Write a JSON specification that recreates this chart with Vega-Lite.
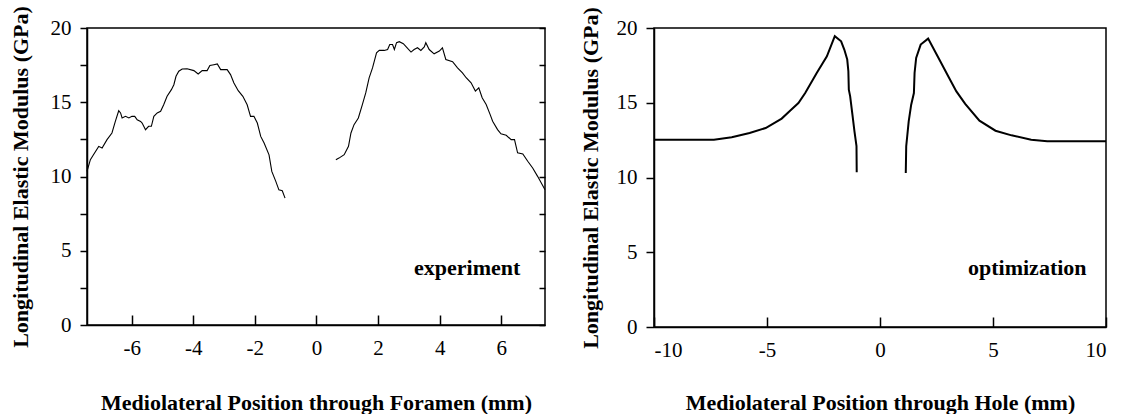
{
  "$schema": "https://vega.github.io/schema/vega-lite/v6.json",
  "padding": {"left": 8, "top": 4, "right": 5, "bottom": 0},
  "spacing": 30,
  "config": {
    "font": "Liberation Serif, Times New Roman, serif",
    "view": {"stroke": "black", "strokeWidth": 1.5},
    "axis": {
      "grid": false,
      "domainColor": "black",
      "domainWidth": 1.5,
      "tickColor": "black",
      "tickWidth": 1.5,
      "labelColor": "black",
      "titleColor": "black",
      "labelFont": "Liberation Serif, Times New Roman, serif",
      "titleFont": "Liberation Serif, Times New Roman, serif",
      "labelFontSize": 21,
      "titleFontSize": 22,
      "titleFontWeight": "bold"
    }
  },
  "datasets": {
    "exp": [
      {"x": -7.45, "y": 10.34, "seg": "L"},
      {"x": -7.34, "y": 11.13, "seg": "L"},
      {"x": -7.24, "y": 11.46, "seg": "L"},
      {"x": -7.07, "y": 12.03, "seg": "L"},
      {"x": -6.96, "y": 11.92, "seg": "L"},
      {"x": -6.8, "y": 12.48, "seg": "L"},
      {"x": -6.64, "y": 12.93, "seg": "L"},
      {"x": -6.53, "y": 13.71, "seg": "L"},
      {"x": -6.42, "y": 14.43, "seg": "L"},
      {"x": -6.36, "y": 14.28, "seg": "L"},
      {"x": -6.31, "y": 13.94, "seg": "L"},
      {"x": -6.2, "y": 14.05, "seg": "L"},
      {"x": -6.09, "y": 13.94, "seg": "L"},
      {"x": -5.99, "y": 14.05, "seg": "L"},
      {"x": -5.9, "y": 14.05, "seg": "L"},
      {"x": -5.82, "y": 13.82, "seg": "L"},
      {"x": -5.71, "y": 13.71, "seg": "L"},
      {"x": -5.66, "y": 13.6, "seg": "L"},
      {"x": -5.55, "y": 13.15, "seg": "L"},
      {"x": -5.45, "y": 13.38, "seg": "L"},
      {"x": -5.36, "y": 13.38, "seg": "L"},
      {"x": -5.28, "y": 14.05, "seg": "L"},
      {"x": -5.17, "y": 14.28, "seg": "L"},
      {"x": -5.06, "y": 14.39, "seg": "L"},
      {"x": -4.96, "y": 14.83, "seg": "L"},
      {"x": -4.85, "y": 15.4, "seg": "L"},
      {"x": -4.71, "y": 15.85, "seg": "L"},
      {"x": -4.63, "y": 16.18, "seg": "L"},
      {"x": -4.56, "y": 16.75, "seg": "L"},
      {"x": -4.47, "y": 17.09, "seg": "L"},
      {"x": -4.36, "y": 17.24, "seg": "L"},
      {"x": -4.2, "y": 17.26, "seg": "L"},
      {"x": -3.98, "y": 17.13, "seg": "L"},
      {"x": -3.84, "y": 16.9, "seg": "L"},
      {"x": -3.71, "y": 17.13, "seg": "L"},
      {"x": -3.55, "y": 17.13, "seg": "L"},
      {"x": -3.46, "y": 17.47, "seg": "L"},
      {"x": -3.33, "y": 17.53, "seg": "L"},
      {"x": -3.22, "y": 17.58, "seg": "L"},
      {"x": -3.11, "y": 17.2, "seg": "L"},
      {"x": -2.9, "y": 17.2, "seg": "L"},
      {"x": -2.79, "y": 16.86, "seg": "L"},
      {"x": -2.68, "y": 16.3, "seg": "L"},
      {"x": -2.54, "y": 15.78, "seg": "L"},
      {"x": -2.39, "y": 15.4, "seg": "L"},
      {"x": -2.25, "y": 14.83, "seg": "L"},
      {"x": -2.14, "y": 14.05, "seg": "L"},
      {"x": -2.03, "y": 14.05, "seg": "L"},
      {"x": -1.92, "y": 13.6, "seg": "L"},
      {"x": -1.81, "y": 12.7, "seg": "L"},
      {"x": -1.7, "y": 12.25, "seg": "L"},
      {"x": -1.54, "y": 11.46, "seg": "L"},
      {"x": -1.45, "y": 10.34, "seg": "L"},
      {"x": -1.32, "y": 9.67, "seg": "L"},
      {"x": -1.22, "y": 9.1, "seg": "L"},
      {"x": -1.11, "y": 9.04, "seg": "L"},
      {"x": -1.02, "y": 8.54, "seg": "L"},
      {"x": 0.63, "y": 11.13, "seg": "R"},
      {"x": 0.73, "y": 11.24, "seg": "R"},
      {"x": 0.9, "y": 11.47, "seg": "R"},
      {"x": 1.04, "y": 12.03, "seg": "R"},
      {"x": 1.12, "y": 12.93, "seg": "R"},
      {"x": 1.22, "y": 13.49, "seg": "R"},
      {"x": 1.36, "y": 13.94, "seg": "R"},
      {"x": 1.49, "y": 14.84, "seg": "R"},
      {"x": 1.6, "y": 15.63, "seg": "R"},
      {"x": 1.71, "y": 16.64, "seg": "R"},
      {"x": 1.82, "y": 17.31, "seg": "R"},
      {"x": 1.95, "y": 18.33, "seg": "R"},
      {"x": 2.04, "y": 18.49, "seg": "R"},
      {"x": 2.2, "y": 18.49, "seg": "R"},
      {"x": 2.31, "y": 18.55, "seg": "R"},
      {"x": 2.38, "y": 18.89, "seg": "R"},
      {"x": 2.47, "y": 18.89, "seg": "R"},
      {"x": 2.53, "y": 18.55, "seg": "R"},
      {"x": 2.6, "y": 19.01, "seg": "R"},
      {"x": 2.69, "y": 19.08, "seg": "R"},
      {"x": 2.82, "y": 18.94, "seg": "R"},
      {"x": 2.96, "y": 18.62, "seg": "R"},
      {"x": 3.07, "y": 18.38, "seg": "R"},
      {"x": 3.17, "y": 18.55, "seg": "R"},
      {"x": 3.28, "y": 18.67, "seg": "R"},
      {"x": 3.39, "y": 18.49, "seg": "R"},
      {"x": 3.5, "y": 18.72, "seg": "R"},
      {"x": 3.55, "y": 19.01, "seg": "R"},
      {"x": 3.66, "y": 18.55, "seg": "R"},
      {"x": 3.82, "y": 18.26, "seg": "R"},
      {"x": 3.99, "y": 18.45, "seg": "R"},
      {"x": 4.09, "y": 18.67, "seg": "R"},
      {"x": 4.2, "y": 17.88, "seg": "R"},
      {"x": 4.42, "y": 17.73, "seg": "R"},
      {"x": 4.58, "y": 17.32, "seg": "R"},
      {"x": 4.74, "y": 16.98, "seg": "R"},
      {"x": 4.86, "y": 16.65, "seg": "R"},
      {"x": 5.02, "y": 16.31, "seg": "R"},
      {"x": 5.16, "y": 15.75, "seg": "R"},
      {"x": 5.27, "y": 15.97, "seg": "R"},
      {"x": 5.38, "y": 15.3, "seg": "R"},
      {"x": 5.51, "y": 14.85, "seg": "R"},
      {"x": 5.64, "y": 14.17, "seg": "R"},
      {"x": 5.72, "y": 13.72, "seg": "R"},
      {"x": 5.88, "y": 13.16, "seg": "R"},
      {"x": 5.99, "y": 12.87, "seg": "R"},
      {"x": 6.16, "y": 12.78, "seg": "R"},
      {"x": 6.32, "y": 12.48, "seg": "R"},
      {"x": 6.43, "y": 12.48, "seg": "R"},
      {"x": 6.53, "y": 11.59, "seg": "R"},
      {"x": 6.7, "y": 11.52, "seg": "R"},
      {"x": 6.86, "y": 11.03, "seg": "R"},
      {"x": 7.02, "y": 10.57, "seg": "R"},
      {"x": 7.18, "y": 10.01, "seg": "R"},
      {"x": 7.42, "y": 9.11, "seg": "R"}
    ],
    "opt": [
      {"x": -10, "y": 12.53, "seg": "L"},
      {"x": -7.35, "y": 12.53, "seg": "L"},
      {"x": -6.56, "y": 12.69, "seg": "L"},
      {"x": -5.77, "y": 12.98, "seg": "L"},
      {"x": -5.06, "y": 13.31, "seg": "L"},
      {"x": -4.35, "y": 13.94, "seg": "L"},
      {"x": -3.98, "y": 14.47, "seg": "L"},
      {"x": -3.61, "y": 14.98, "seg": "L"},
      {"x": -3.31, "y": 15.65, "seg": "L"},
      {"x": -2.8, "y": 16.99, "seg": "L"},
      {"x": -2.35, "y": 18.11, "seg": "L"},
      {"x": -2.0, "y": 19.45, "seg": "L"},
      {"x": -1.72, "y": 19.11, "seg": "L"},
      {"x": -1.58, "y": 18.56, "seg": "L"},
      {"x": -1.45, "y": 17.89, "seg": "L"},
      {"x": -1.4, "y": 17.11, "seg": "L"},
      {"x": -1.38, "y": 15.88, "seg": "L"},
      {"x": -1.32, "y": 15.43, "seg": "L"},
      {"x": -1.22, "y": 14.2, "seg": "L"},
      {"x": -1.13, "y": 13.09, "seg": "L"},
      {"x": -1.04, "y": 12.1, "seg": "L"},
      {"x": -1.03, "y": 10.35, "seg": "L"},
      {"x": 1.14, "y": 10.3, "seg": "R"},
      {"x": 1.16, "y": 12.09, "seg": "R"},
      {"x": 1.27, "y": 13.76, "seg": "R"},
      {"x": 1.38, "y": 14.87, "seg": "R"},
      {"x": 1.5, "y": 15.65, "seg": "R"},
      {"x": 1.53, "y": 16.99, "seg": "R"},
      {"x": 1.6, "y": 18.0, "seg": "R"},
      {"x": 1.8, "y": 18.89, "seg": "R"},
      {"x": 2.13, "y": 19.29, "seg": "R"},
      {"x": 2.59, "y": 17.99, "seg": "R"},
      {"x": 3.06, "y": 16.66, "seg": "R"},
      {"x": 3.38, "y": 15.76, "seg": "R"},
      {"x": 3.77, "y": 14.92, "seg": "R"},
      {"x": 4.4, "y": 13.8, "seg": "R"},
      {"x": 5.11, "y": 13.13, "seg": "R"},
      {"x": 5.82, "y": 12.82, "seg": "R"},
      {"x": 6.69, "y": 12.53, "seg": "R"},
      {"x": 7.4, "y": 12.42, "seg": "R"},
      {"x": 10, "y": 12.42, "seg": "R"}
    ],
    "lab1": [{"label": "experiment", "x": 6.62, "y": 3.83}],
    "lab2": [{"label": "optimization", "x": 9.14, "y": 3.95}]
  },
  "hconcat": [
    {
      "width": 458,
      "height": 297,
      "resolve": {"axis": {"y": "independent"}},
      "layer": [
        {
          "data": {"name": "exp"},
          "mark": {"type": "line", "color": "black", "strokeWidth": 1.1},
          "encoding": {
            "x": {
              "field": "x", "type": "quantitative",
              "scale": {"domain": [-7.45, 7.42], "nice": false, "zero": false},
              "axis": {
                "values": [-6, -4, -2, 0, 2, 4, 6],
                "labelExpr": "toString(datum.value)",
                "tickSize": -10,
                "labelPadding": 22,
                "title": "Mediolateral Position through Foramen (mm)",
                "titlePadding": 34
              }
            },
            "y": {
              "field": "y", "type": "quantitative",
              "scale": {"domain": [0, 20], "nice": false},
              "axis": {
                "values": [0, 2.5, 5, 7.5, 10, 12.5, 15, 17.5, 20],
                "labelExpr": "datum.value % 5 === 0 ? toString(datum.value) : ''",
                "tickSize": 7,
                "labelPadding": 9,
                "title": "Longitudinal Elastic Modulus (GPa)",
                "titlePadding": 18
              }
            },
            "detail": {"field": "seg"}
          }
        },
        {
          "data": {"name": "lab1"},
          "mark": {"type": "text", "align": "right", "baseline": "middle", "fontSize": 22, "fontWeight": "bold", "color": "black"},
          "encoding": {
            "x": {"field": "x", "type": "quantitative"},
            "y": {
              "field": "y", "type": "quantitative",
              "axis": {
                "orient": "right",
                "values": [0, 2.5, 5, 7.5, 10, 12.5, 15, 17.5, 20],
                "labels": false,
                "domain": false,
                "tickSize": -6,
                "title": null
              }
            },
            "text": {"field": "label"}
          }
        }
      ]
    },
    {
      "width": 452,
      "height": 299,
      "layer": [
        {
          "data": {"name": "opt"},
          "mark": {"type": "line", "color": "black", "strokeWidth": 2},
          "encoding": {
            "x": {
              "field": "x", "type": "quantitative",
              "scale": {"domain": [-10, 10], "nice": false, "zero": false},
              "axis": {
                "values": [-10, -5, 0, 5, 10],
                "labelExpr": "toString(datum.value)",
                "tickSize": -10,
                "labelPadding": 22,
                "title": "Mediolateral Position through Hole (mm)",
                "titlePadding": 32
              }
            },
            "y": {
              "field": "y", "type": "quantitative",
              "scale": {"domain": [0, 20], "nice": false},
              "axis": {
                "values": [0, 5, 10, 15, 20],
                "labelExpr": "toString(datum.value)",
                "tickSize": 8,
                "labelPadding": 9,
                "title": "Longitudinal Elastic Modulus (GPa)",
                "titlePadding": 14
              }
            },
            "detail": {"field": "seg"}
          }
        },
        {
          "data": {"name": "lab2"},
          "mark": {"type": "text", "align": "right", "baseline": "middle", "fontSize": 22, "fontWeight": "bold", "color": "black"},
          "encoding": {
            "x": {"field": "x", "type": "quantitative"},
            "y": {"field": "y", "type": "quantitative"},
            "text": {"field": "label"}
          }
        }
      ]
    }
  ]
}
